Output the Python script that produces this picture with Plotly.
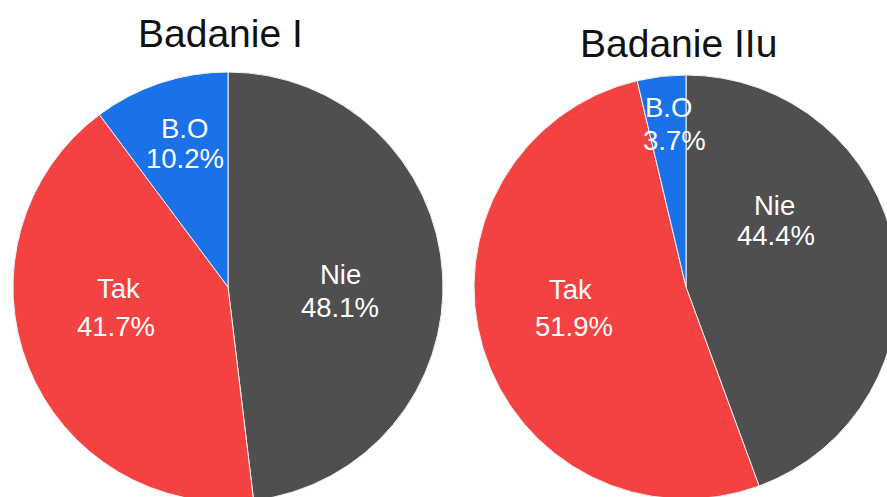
import plotly.graph_objects as go

# Survey answers for the two studies (percent of respondents)
labels = ["Nie", "Tak", "B.O"]
badanie_1 = [48.1, 41.7, 10.2]
badanie_2 = [44.4, 51.9, 3.7]
titles = ["Badanie I", "Badanie IIu"]

colors = ["#4f4f4f", "#f44141", "#1b72e8"]

# Canvas is slightly larger than the page so the pies run off the bottom/right edge
W, H = 900, 505
FONT = "Liberation Sans, Arial, sans-serif"

# Pie geometry in pixels: (center x, center y, radius)
pie_geom = [(228, 287, 215), (686, 287, 212)]
# Title centers in pixels
title_pos = [(220, 33), (678, 44)]
# Label line centers in pixels: [(name_x, name_y, pct_x, pct_y), ...] per slice
label_pos = [
    [(340, 274, 340, 307), (119, 288, 116, 326), (184, 128, 185, 158)],
    [(774, 206, 776, 236), (570, 289, 574, 326), (668, 108, 674, 140)],
]


def px_x(x):
    return x / W


def px_y(y):
    return 1 - y / H


fig = go.Figure()
annotations = []
for i, values in enumerate([badanie_1, badanie_2]):
    cx, cy, r = pie_geom[i]
    fig.add_trace(go.Pie(
        labels=labels,
        values=values,
        sort=False,
        direction="clockwise",
        rotation=0,
        marker=dict(colors=colors, line=dict(color="#f2f2f2", width=1)),
        textinfo="none",
        hoverinfo="label+percent",
        showlegend=False,
        domain=dict(x=[px_x(cx - r), px_x(cx + r)],
                    y=[px_y(cy + r), px_y(cy - r)]),
    ))
    tx, ty = title_pos[i]
    annotations.append(dict(
        text=titles[i], x=px_x(tx), y=px_y(ty), xref="paper", yref="paper",
        xanchor="center", yanchor="middle", showarrow=False,
        font=dict(family=FONT, size=39, color="#111111"),
    ))
    for lab, val, pos in zip(labels, values, label_pos[i]):
        nx, ny, vx, vy = pos
        annotations.append(dict(
            text=lab, x=px_x(nx), y=px_y(ny), xref="paper", yref="paper",
            xanchor="center", yanchor="middle", showarrow=False,
            font=dict(family=FONT, size=27.5, color="white"),
        ))
        annotations.append(dict(
            text=f"{val:.1f}%", x=px_x(vx), y=px_y(vy), xref="paper", yref="paper",
            xanchor="center", yanchor="middle", showarrow=False,
            font=dict(family=FONT, size=27.5, color="white"),
        ))

fig.update_layout(
    width=W,
    height=H,
    margin=dict(l=0, r=0, t=0, b=0),
    paper_bgcolor="white",
    plot_bgcolor="white",
    annotations=annotations,
)

fig.write_html(
    "out.html",
    post_script=(
        "document.documentElement.style.overflow='hidden';"
        "document.body.style.overflow='hidden';"
        "document.body.style.margin='0';"
    ),
)
